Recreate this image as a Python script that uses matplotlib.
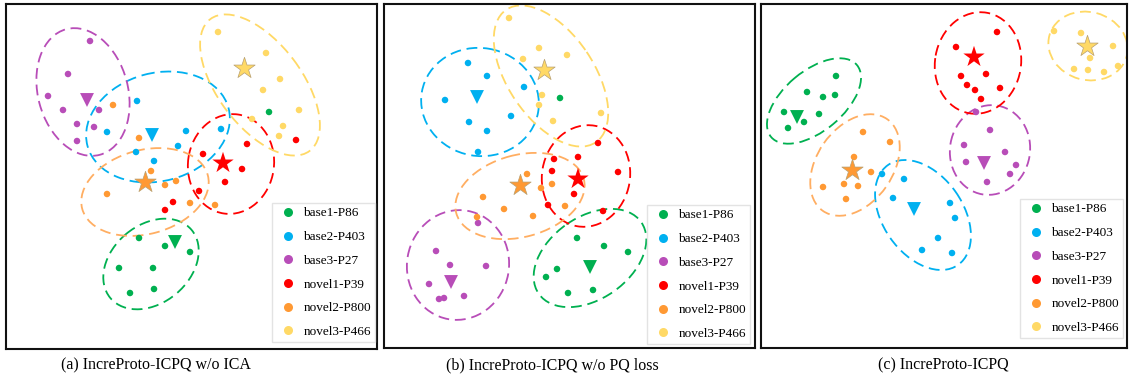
import matplotlib
matplotlib.use("Agg")
import matplotlib.pyplot as plt
from matplotlib.patches import Ellipse
from matplotlib.lines import Line2D

plt.rcParams['font.family'] = ['Liberation Serif', 'DejaVu Serif']

classes = ['base1-P86', 'base2-P403', 'base3-P27', 'novel1-P39', 'novel2-P800', 'novel3-P466']
colors = ['#00B050', '#00B0F0', '#B84DB8', '#FF0000', '#FF9933', '#FFD966']
ring_colors = ['#00B050', '#00B0F0', '#B84DB8', '#FF0000', '#FFAE62', '#FFD966']
proto_markers = ['v', 'v', 'v', '*', '*', '*']
captions = ['(a) IncreProto-ICPQ w/o ICA', '(b) IncreProto-ICPQ w/o PQ loss', '(c) IncreProto-ICPQ']

# t-SNE embeddings (image pixel units, y downwards)
pts_a = {
    'base1-P86': [(139, 238), (165, 246), (190, 252), (119, 268), (153, 268), (130, 293), (154, 289), (269, 112)],
    'base2-P403': [(137, 101), (107, 132), (186, 131), (221, 129), (178, 146), (136, 152), (154, 161)],
    'base3-P27': [(90, 41), (68, 74), (48, 96), (63, 110), (99, 110), (77, 124), (94, 127), (77, 141)],
    'novel1-P39': [(203, 154), (247, 144), (242, 169), (225, 182), (199, 191), (173, 202), (165, 210), (296, 140)],
    'novel2-P800': [(113, 105), (139, 138), (151, 171), (165, 185), (176, 181), (107, 194), (190, 203), (215, 205)],
    'novel3-P466': [(218, 32), (266, 53), (280, 79), (263, 90), (299, 110), (283, 126), (279, 136), (252, 119)],
}
pts_b = {
    'base1-P86': [(577, 238), (604, 246), (628, 252), (557, 269), (546, 277), (568, 293), (593, 290), (560, 98)],
    'base2-P403': [(468, 63), (487, 76), (524, 87), (445, 100), (511, 116), (469, 122), (487, 131), (478, 152)],
    'base3-P27': [(478, 223), (436, 251), (450, 265), (486, 266), (429, 284), (439, 299), (444, 298), (464, 296)],
    'novel1-P39': [(598, 143), (578, 157), (554, 159), (552, 171), (618, 172), (574, 194), (548, 205), (603, 211)],
    'novel2-P800': [(527, 174), (552, 184), (541, 188), (483, 197), (504, 209), (533, 216), (565, 206), (477, 217)],
    'novel3-P466': [(509, 18), (539, 48), (567, 55), (523, 59), (542, 95), (539, 105), (553, 121), (601, 113)],
}
pts_c = {
    'base1-P86': [(836, 76), (807, 92), (823, 97), (835, 95), (784, 112), (804, 122), (819, 114), (788, 128)],
    'base2-P403': [(882, 174), (904, 179), (893, 198), (950, 203), (955, 218), (938, 238), (922, 250), (952, 253)],
    'base3-P27': [(976, 112), (990, 130), (964, 145), (1005, 152), (966, 162), (1016, 165), (1010, 174), (987, 182)],
    'novel1-P39': [(997, 32), (956, 47), (986, 74), (961, 76), (967, 85), (975, 90), (1000, 88), (981, 99)],
    'novel2-P800': [(863, 132), (890, 142), (854, 157), (871, 172), (844, 184), (858, 186), (823, 187), (846, 199)],
    'novel3-P466': [(1054, 31), (1081, 33), (1113, 46), (1090, 58), (1074, 69), (1088, 70), (1104, 72), (1118, 66)],
}

# class prototypes
proto_a = [(175, 242), (152, 135), (87, 100), (223, 163), (145, 182), (244, 68)]
proto_b = [(590, 267), (477, 97), (451, 282), (578, 179), (520, 185), (544, 70)]
proto_c = [(797, 117), (914, 209), (984, 163), (974, 57), (852, 170), (1087, 46)]

# cluster rings: centre x, centre y, width, height, angle
rings_a = [(151, 264, 106, 78, -40), (158, 127, 146, 108, -15), (83, 92, 130, 90, 75),
           (231, 164, 100, 86, -82), (145, 192, 130, 84, -15), (260, 85, 165, 84, 53)]
rings_b = [(590, 258, 125, 82, -35), (480, 102, 118, 108, 10), (458, 265, 110, 102, -80),
           (586, 176, 102, 88, -80), (520, 196, 132, 82, -15), (551, 76, 160, 86, 56)]
rings_c = [(814, 101, 112, 60, -40), (923, 215, 122, 80, 55), (990, 150, 90, 80, -80),
           (978, 63, 102, 86, -80), (855, 165, 112, 76, -55), (1088, 46, 80, 68, 15)]

panels = [(pts_a, proto_a, rings_a, (6, 377, 349, 4)),
          (pts_b, proto_b, rings_b, (384, 755, 348, 4)),
          (pts_c, proto_c, rings_c, (761, 1127, 348, 4))]
legend_corner = [(375, 342), (750, 344), (1123, 338)]
caption_x = [156, 552, 943]

W, H = 1129, 380
fig = plt.figure(figsize=(W / 100, H / 100), dpi=100)

for k, (pts, protos, rings, (x0, x1, y0, y1)) in enumerate(panels):
    ax = fig.add_axes([x0 / W, 1 - y0 / H, (x1 - x0) / W, (y0 - y1) / H])
    ax.set_xlim(x0, x1)
    ax.set_ylim(y0, y1)
    ax.set_xticks([])
    ax.set_yticks([])
    for s in ax.spines.values():
        s.set_linewidth(1.5)
        s.set_color('#111111')

    for i, name in enumerate(classes):
        cx, cy, w, h, ang = rings[i]
        ax.add_patch(Ellipse((cx, cy), w, h, angle=ang, fill=False, edgecolor=ring_colors[i],
                             lw=1.3, linestyle=(0, (6, 3.2)), zorder=1))
    for i, name in enumerate(classes):
        xs = [p[0] for p in pts[name]]
        ys = [p[1] for p in pts[name]]
        ax.scatter(xs, ys, s=22, color=colors[i], edgecolors='none', zorder=3)
    for i, name in enumerate(classes):
        px, py = protos[i]
        if proto_markers[i] == 'v':
            ax.scatter([px], [py], s=100, marker='v', color=colors[i], edgecolors='none', zorder=4)
        else:
            ax.scatter([px], [py], s=260, marker='*', color=colors[i],
                       edgecolors='#b8a070' if i != 3 else 'none', linewidths=0.5, zorder=4)

    handles = [Line2D([], [], marker='o', linestyle='none', markersize=6.5, color=c,
                      markeredgewidth=0) for c in colors]
    leg = ax.legend(handles, classes, loc='lower right', bbox_to_anchor=legend_corner[k],
                    bbox_transform=ax.transData, borderaxespad=0, fontsize=9.5,
                    frameon=True, fancybox=False, edgecolor='#dddddd',
                    handletextpad=0.3, labelspacing=0.87, borderpad=0.3, handlelength=1.8)
    leg.get_frame().set_linewidth(1.0)

    fig.text(caption_x[k] / W, 1 - 365 / H, captions[k], ha='center', va='center', fontsize=11.5)

fig.savefig('out.png', dpi=100)
